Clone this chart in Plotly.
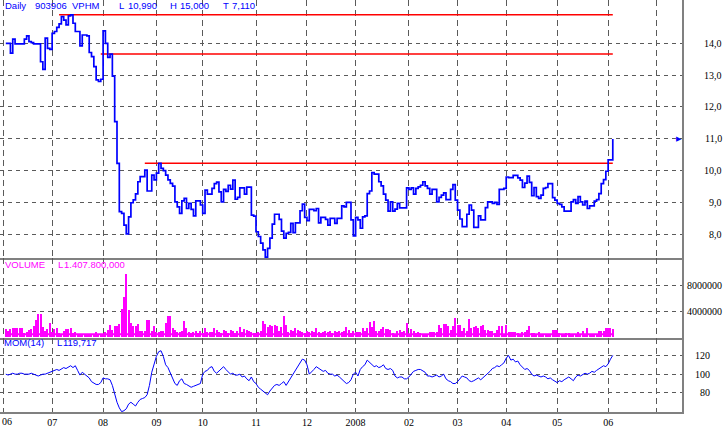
import pandas as pd
import plotly.graph_objects as go

# ---------------- data ----------------
start_date = "2007-06-04"

price = [
    14.00, 14.00, 13.69, 14.13, 13.98, 13.98, 13.98, 13.98, 14.13, 14.23,
    14.05, 14.02, 13.98, 13.98, 13.98, 13.42, 13.18, 14.16, 13.84, 13.81,
    14.31, 14.37, 14.50, 14.61, 14.84, 14.73, 14.58, 14.86, 14.89, 14.63,
    14.37, 14.37, 13.92, 14.26, 14.26, 14.23, 13.71, 13.58, 13.27, 12.85,
    12.80, 12.87, 14.39, 14.00, 13.56, 13.66, 12.97, 11.54, 10.23, 8.71,
    8.66, 8.29, 8.01, 8.55, 8.99, 9.08, 9.27, 9.65, 9.81, 9.81,
    10.02, 9.36, 9.36, 9.86, 9.71, 9.92, 10.23, 10.07, 10.00, 9.86,
    9.71, 9.60, 9.51, 9.02, 8.86, 8.66, 9.05, 9.13, 8.81, 8.97,
    8.78, 8.58, 9.05, 9.05, 8.92, 8.66, 9.39, 9.26, 9.26, 9.44,
    9.59, 9.64, 9.33, 9.02, 9.41, 9.35, 9.54, 9.42, 9.70, 9.10,
    9.16, 9.46, 9.46, 9.26, 9.48, 9.48, 8.60, 8.57, 8.08, 7.93,
    7.72, 7.51, 7.28, 7.56, 7.88, 8.32, 8.63, 8.63, 8.47, 8.10,
    7.88, 8.03, 8.06, 8.34, 8.05, 8.36, 8.36, 8.74, 8.95, 8.53,
    8.43, 8.78, 8.78, 8.74, 8.81, 8.36, 8.53, 8.53, 8.47, 8.29,
    8.50, 8.50, 8.34, 8.50, 8.50, 8.89, 8.86, 9.00, 9.00, 8.45,
    7.95, 8.53, 8.45, 8.19, 8.55, 8.58, 9.28, 9.36, 9.94, 9.89,
    9.89, 9.65, 9.52, 9.26, 9.07, 8.73, 9.02, 8.73, 8.79, 8.97,
    8.83, 8.83, 8.83, 9.46, 9.41, 9.46, 9.26, 9.44, 9.49, 9.54,
    9.65, 9.52, 9.44, 9.26, 9.41, 9.41, 9.02, 9.16, 9.23, 9.30,
    9.09, 9.09, 9.41, 9.56, 9.07, 8.76, 8.48, 8.24, 8.24, 8.63,
    8.92, 8.76, 8.22, 8.22, 8.58, 8.45, 8.45, 8.84, 9.02, 9.02,
    8.97, 9.00, 8.94, 9.41, 9.41, 9.44, 9.80, 9.78, 9.78, 9.85,
    9.85, 9.77, 9.70, 9.47, 9.61, 9.83, 9.63, 9.21, 9.47, 9.18,
    9.13, 9.23, 9.44, 9.47, 9.59, 9.59, 9.15, 9.07, 8.97, 8.94,
    8.86, 8.73, 8.73, 8.73, 9.02, 9.09, 8.97, 9.18, 9.02, 8.92,
    9.04, 8.81, 8.89, 8.89, 9.04, 9.09, 9.28, 9.59, 9.72, 9.98,
    10.34, 10.34, 10.99,
]

volume_millions = [
    1.28, 0.92, 1.28, 1.43, 1.43, 1.43, 1.43, 1.43, 0.60, 0.82,
    1.10, 1.28, 1.69, 2.71, 3.58, 3.58, 1.59, 0.92, 1.28, 2.20,
    0.82, 1.28, 1.43, 0.66, 0.56, 0.92, 1.28, 1.28, 1.43, 0.66,
    0.82, 0.56, 0.50, 0.56, 0.50, 0.50, 0.50, 0.50, 0.50, 0.82,
    0.56, 0.50, 0.50, 0.82, 1.18, 1.94, 1.18, 1.69, 1.79, 2.05,
    4.35, 6.20, 9.80, 4.15, 2.20, 1.69, 1.79, 2.05, 1.02, 0.92,
    0.92, 2.71, 2.71, 0.92, 1.79, 0.82, 0.82, 0.92, 0.92, 2.20,
    3.22, 3.22, 1.43, 1.10, 0.82, 0.82, 1.02, 2.56, 1.43, 0.82,
    0.60, 0.82, 0.92, 0.66, 0.92, 0.60, 1.43, 0.82, 0.82, 0.82,
    1.43, 1.18, 0.82, 0.60, 1.18, 0.92, 0.60, 1.18, 0.92, 0.66,
    0.92, 1.54, 0.82, 1.28, 1.18, 1.02, 0.82, 0.66, 0.60, 0.82,
    0.92, 2.46, 2.05, 1.59, 1.94, 1.69, 1.94, 1.69, 0.92, 1.59,
    3.22, 1.94, 0.82, 1.18, 1.02, 1.43, 1.18, 1.02, 0.82, 0.66,
    0.92, 0.82, 1.02, 0.82, 1.43, 0.82, 0.66, 0.82, 0.92, 0.82,
    0.92, 0.60, 0.92, 0.82, 1.02, 0.82, 0.92, 1.54, 1.18, 0.66,
    0.92, 0.82, 0.82, 0.82, 1.43, 1.02, 1.43, 2.36, 1.59, 2.56,
    1.02, 1.02, 1.33, 1.59, 1.28, 1.28, 1.13, 0.66, 0.50, 1.02,
    1.13, 0.82, 1.02, 2.20, 0.50, 1.28, 1.02, 0.66, 0.82, 0.66,
    0.50, 0.50, 0.50, 0.82, 0.82, 0.82, 0.82, 1.84, 1.43, 2.05,
    2.05, 1.74, 1.18, 1.74, 2.97, 1.94, 1.94, 1.02, 1.43, 1.02,
    2.82, 1.43, 1.59, 1.74, 1.43, 1.74, 1.94, 1.18, 1.18, 0.92,
    0.92, 0.66, 1.18, 1.74, 1.74, 0.50, 1.89, 0.82, 0.82, 0.82,
    0.82, 0.66, 0.50, 0.82, 0.82, 1.18, 1.74, 0.66, 0.66, 0.50,
    0.82, 0.50, 0.50, 0.50, 0.50, 0.50, 1.18, 1.18, 1.18, 0.66,
    0.50, 0.50, 0.66, 0.66, 0.50, 0.50, 0.50, 0.82, 0.50, 1.02,
    0.50, 1.43, 0.50, 0.50, 0.50, 0.50, 1.02, 1.02, 1.02, 1.43,
    1.43, 1.43, 1.28,
]

mom14 = [
    100, 99, 100, 101, 100, 100, 101, 101, 100, 100,
    100, 101, 100, 99, 98, 99, 100, 100, 101, 102,
    103, 104, 105, 104, 106, 107, 106, 108, 109, 107,
    109, 104, 99, 102, 100, 98, 96, 92, 90, 89,
    89, 91, 96, 95, 95, 94, 88, 78, 70, 64,
    60, 61, 63, 68, 70, 68, 66, 70, 73, 74,
    75, 78, 88, 102, 112, 119, 124, 125, 119, 110,
    107, 101, 95, 90, 88, 93, 95, 90, 89, 87,
    86, 87, 88, 89, 90, 100, 103, 104, 107, 108,
    103, 101, 103, 106, 108, 105, 103, 100, 101, 99,
    99, 100, 97, 98, 95, 93, 97, 92, 90, 86,
    84, 82, 80, 78, 82, 85, 88, 89, 88, 90,
    92, 88, 92, 96, 100, 104, 108, 112, 116, 115,
    110, 100, 102, 105, 108, 106, 105, 103, 104, 101,
    100, 100, 98, 99, 97, 95, 93, 90, 91, 94,
    100, 102, 98, 105, 108, 110, 115, 113, 110, 108,
    109, 107, 108, 110, 106, 105, 106, 104, 98, 96,
    97, 97, 95, 95, 97, 100, 103, 104, 105, 105,
    103, 102, 98, 98, 97, 98, 99, 97, 98, 100,
    95, 93, 92, 90, 90, 92, 95, 98, 97, 96,
    93, 92, 93, 95, 96, 94, 96, 98, 100, 103,
    106, 107, 109, 108, 110, 112, 117, 120, 115, 116,
    113, 114, 110, 107, 105, 106, 104, 100, 98, 99,
    98, 97, 98, 97, 95, 96, 94, 92, 91, 93,
    92, 94, 96, 97, 95, 93, 97, 99, 98, 100,
    101, 100, 101, 103, 102, 104, 106, 107, 109, 108,
    111, 116, 120,
]

# horizontal trend lines drawn on the price chart
trend_levels = [14.90, 13.66, 10.23]
trend_starts = ["2007-07-05", "2007-07-31", "2007-08-27"]

month_ticks = ["2007-06-01", "2007-07-02", "2007-08-01", "2007-09-03", "2007-10-01",
               "2007-11-01", "2007-12-03", "2008-01-01", "2008-02-01", "2008-03-03",
               "2008-04-01", "2008-05-01", "2008-06-02", "2008-07-01"]
month_labels = ["06", "07", "08", "09", "10", "11", "12", "2008", "02", "03",
                "04", "05", "06", ""]

price_ticks = [8, 9, 10, 11, 12, 13, 14]
volume_ticks = [4000000, 8000000]
mom_ticks = [80, 100, 120]

# ---------------- figure ----------------
W, H = 728, 430
ML, MR, MT, MB = 0, 46, 0, 18
PW, PH = W - ML - MR, H - MT - MB


def fx(px):
    return (px - ML) / PW


def fy(py):
    return 1 - (py - MT) / PH


price_dates = pd.bdate_range(start_date, periods=len(price))
vol_dates = pd.bdate_range(start_date, periods=len(volume_millions))
mom_dates = pd.bdate_range(start_date, periods=len(mom14))
volume = [v * 1e6 for v in volume_millions]

BLUE = "#0000FF"
MAG = "#FF00FF"
RED = "#FF0000"
GRID = "#5a5a5a"
BORDER = "#808080"

fig = go.Figure()

for lvl, st in zip(trend_levels, trend_starts):
    fig.add_trace(go.Scatter(x=[pd.Timestamp(st), price_dates[-1]], y=[lvl, lvl],
                             mode="lines", line=dict(color=RED, width=1.5),
                             xaxis="x", yaxis="y", hoverinfo="skip"))

fig.add_trace(go.Scatter(x=price_dates, y=price, mode="lines",
                         line=dict(color=BLUE, width=1.7, shape="hv"),
                         xaxis="x", yaxis="y"))

fig.add_trace(go.Bar(x=vol_dates, y=volume, marker=dict(color=MAG, line=dict(width=0)),
                     width=0.45 * 86400000, xaxis="x2", yaxis="y2"))
fig.add_trace(go.Scatter(x=[vol_dates[0], vol_dates[-1]], y=[0.45e6, 0.45e6], mode="lines",
                         line=dict(color=MAG, width=2), xaxis="x2", yaxis="y2",
                         hoverinfo="skip"))

fig.add_trace(go.Scatter(x=mom_dates, y=mom14, mode="lines",
                         line=dict(color=BLUE, width=1),
                         xaxis="x3", yaxis="y3"))

x_range = ["2007-05-30 12:00", "2008-07-15 21:00"]
xcommon = dict(type="date", range=x_range, rangebreaks=[dict(bounds=["sat", "mon"])],
               tickmode="array", tickvals=month_ticks,
               showgrid=True, gridcolor=GRID, gridwidth=1, griddash="6px,4px",
               showline=True, linecolor=BORDER, linewidth=1.5, ticks="",
               zeroline=False, fixedrange=True)
ycommon = dict(side="right", showline=True, linecolor=BORDER, linewidth=1.5,
               showgrid=True, gridcolor=GRID, gridwidth=1, griddash="4px,4px",
               showticklabels=False, ticks="", zeroline=False, fixedrange=True,
               tickmode="array")

# first label sits at the very left edge: drawn as an annotation below
axis_labels = [""] + month_labels[1:]

fig.update_layout(
    width=W, height=H,
    margin=dict(l=ML, r=MR, t=MT, b=MB, pad=0),
    paper_bgcolor="white", plot_bgcolor="white",
    showlegend=False, hovermode=False, bargap=0,
    xaxis=dict(xcommon, anchor="y", showticklabels=False),
    xaxis2=dict(xcommon, anchor="y2", matches="x", showticklabels=False),
    xaxis3=dict(xcommon, anchor="y3", matches="x", showticklabels=True,
                ticktext=axis_labels,
                tickfont=dict(family="Liberation Serif", size=10, color="black")),
    yaxis=dict(ycommon, anchor="x", domain=[fy(258), 1], range=[7.255, 15.36],
               tickvals=price_ticks),
    yaxis2=dict(ycommon, anchor="x2", domain=[fy(338), fy(258)],
                range=[-0.108e6, 12.2e6], tickvals=volume_ticks),
    yaxis3=dict(ycommon, anchor="x3", domain=[0, fy(338)], range=[59.6, 138.6],
                tickvals=mom_ticks),
)

ann = []
lab_font = dict(family="Liberation Serif", size=10, color="black")
ann.append(dict(x=fx(0), y=fy(421), xref="paper", yref="paper", text=month_labels[0],
                showarrow=False, xanchor="left", yanchor="middle", font=lab_font))
for v in price_ticks:
    ann.append(dict(x=fx(724), y=v, xref="paper", yref="y", text=f"{v:.1f}".replace(".", ","),
                    showarrow=False, xanchor="right", yanchor="middle", font=lab_font))
for v in volume_ticks:
    ann.append(dict(x=fx(724), y=v, xref="paper", yref="y2", text=str(v),
                    showarrow=False, xanchor="right", yanchor="middle", font=lab_font))
for v in mom_ticks:
    ann.append(dict(x=fx(712), y=v, xref="paper", yref="y3", text=str(v),
                    showarrow=False, xanchor="right", yanchor="middle", font=lab_font))

# last price marker at the right edge
ann.append(dict(x=fx(679), y=price[-1], xref="paper", yref="y", text="\u25B6",
                showarrow=False, xanchor="center", yanchor="middle",
                font=dict(family="DejaVu Sans", size=7, color=BLUE)))

hdr_font = dict(family="Liberation Sans", size=9.5, color=BLUE)
header = [(3, "Daily"), (33, "903906"), (70, "VPHM"), (117, "L"), (126, "10,990"),
          (168, "H"), (178, "15,000"), (221, "T"), (230, "7,110")]
for px, t in header:
    ann.append(dict(x=fx(px), y=fy(6), xref="paper", yref="paper", text=t, showarrow=False,
                    xanchor="left", yanchor="middle", font=hdr_font))

vol_font = dict(family="Liberation Sans", size=9.5, color=MAG)
for px, t in [(3, "VOLUME"), (56, "L"), (62, "1.407.800,000")]:
    ann.append(dict(x=fx(px), y=fy(264), xref="paper", yref="paper", text=t, showarrow=False,
                    xanchor="left", yanchor="middle", font=vol_font))

mom_font = dict(family="Liberation Sans", size=9.5, color=BLUE)
for px, t in [(2, "MOM(14)"), (55, "L"), (61, "119,717")]:
    ann.append(dict(x=fx(px), y=fy(342), xref="paper", yref="paper", text=t, showarrow=False,
                    xanchor="left", yanchor="middle", font=mom_font))

fig.update_layout(annotations=ann)

fig.write_html("out.html", config={"displayModeBar": False},
               post_script="document.body.style.margin='0';document.body.style.overflow='hidden';")
